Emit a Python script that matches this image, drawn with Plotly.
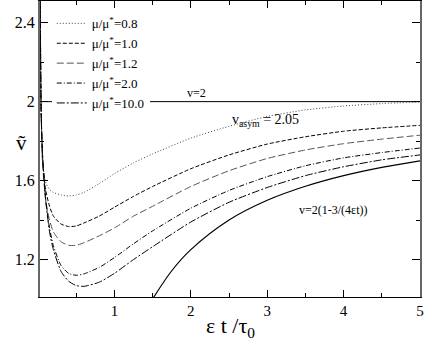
import plotly.graph_objects as go

# ---- data ----
x_eps = [0.025, 0.04, 0.06, 0.1, 0.15, 0.2, 0.3, 0.4, 0.5, 0.6, 0.8, 1.0, 1.25,
         1.5, 2.0, 2.5, 3.0, 3.5, 4.0, 4.5, 5.0]
v_mu08 = [2.7, 2.0, 1.68, 1.59, 1.555, 1.54, 1.527, 1.522, 1.527, 1.54, 1.585, 1.635, 1.69,
          1.735, 1.815, 1.875, 1.925, 1.958, 1.978, 1.99, 1.998]
v_mu10 = [2.7, 1.95, 1.70, 1.55, 1.47, 1.42, 1.38, 1.367, 1.37, 1.385, 1.42, 1.465, 1.52,
          1.57, 1.66, 1.73, 1.785, 1.822, 1.85, 1.867, 1.88]
v_mu12 = [2.7, 1.95, 1.68, 1.50, 1.40, 1.34, 1.29, 1.272, 1.272, 1.285, 1.32, 1.36, 1.42,
          1.47, 1.57, 1.65, 1.712, 1.755, 1.787, 1.81, 1.83]
v_mu20 = [2.7, 1.95, 1.72, 1.50, 1.36, 1.27, 1.17, 1.13, 1.12, 1.127, 1.16, 1.21, 1.28,
          1.345, 1.46, 1.55, 1.62, 1.675, 1.715, 1.742, 1.765]
v_mu100 = [2.7, 1.95, 1.72, 1.50, 1.34, 1.25, 1.14, 1.09, 1.068, 1.064, 1.085, 1.13, 1.20,
           1.265, 1.39, 1.49, 1.565, 1.625, 1.67, 1.705, 1.73]

x_asym = [1.5, 1.75, 2.0, 2.5, 3.0, 3.5, 4.0, 4.5, 5.0]
v_asym = [1.0, 1.143, 1.25, 1.4, 1.5, 1.571, 1.625, 1.667, 1.7]

series_names = ["μ/μ<sup>*</sup>=0.8", "μ/μ<sup>*</sup>=1.0", "μ/μ<sup>*</sup>=1.2",
                "μ/μ<sup>*</sup>=2.0", "μ/μ<sup>*</sup>=10.0"]
series_vals = [v_mu08, v_mu10, v_mu12, v_mu20, v_mu100]
series_dash = ["1px,2px", "4px,2px", "7px,3px", "5px,2px,1px,2px", "8px,2px,2px,2px"]
series_color = ["#444", "#000", "#555", "#000", "#000"]

v_limit = 2.0
x_ticks = [1, 2, 3, 4, 5]
y_ticks = [1.2, 1.6, 2.0, 2.4]
y_ticktext = ["1.2", "1.6", "2", "2.4"]

FONT = "Liberation Serif"

fig = go.Figure()
fig.add_hline(y=v_limit, line=dict(color="#000", width=1), layer="below")

for i, (name, vals, dash, col) in enumerate(zip(series_names, series_vals, series_dash, series_color)):
    fig.add_trace(go.Scatter(x=x_eps, y=vals, mode="lines", name=name, legendgroup=f"g{i}",
                             line=dict(color=col, width=1, dash=dash, shape="spline",
                                       smoothing=0.6)))

fig.add_trace(go.Scatter(x=x_asym, y=v_asym, mode="lines", showlegend=False,
                         line=dict(color="#000", width=1.2, shape="spline")))

fig.add_annotation(x=2.07, y=2.0, text="v=2", showarrow=False, yanchor="bottom",
                   yshift=0, font=dict(family=FONT, size=12, color="#000"))
fig.add_annotation(x=2.98, y=1.905, text="v<sub>asym</sub> = 2.05", showarrow=False,
                   font=dict(family=FONT, size=14, color="#000"))
fig.add_annotation(x=3.86, y=1.451, text="v=2(1-3/(4εt))", showarrow=False,
                   font=dict(family=FONT, size=12, color="#000"))

fig.add_annotation(xref="paper", yref="paper", x=0.5, y=-0.1, text="ε t /τ<sub>0</sub>",
                   showarrow=False, yanchor="middle",
                   font=dict(family=FONT, size=22, color="#000"))
fig.add_annotation(xref="paper", yref="paper", x=-0.068, y=0.52, text="ṽ",
                   showarrow=False, font=dict(family=FONT, size=21, color="#000"))

fig.update_layout(
    width=424, height=345,
    margin=dict(l=40, r=4, t=1, b=48, autoexpand=False),
    paper_bgcolor="white", plot_bgcolor="white",
    font=dict(family=FONT, color="#000"),
    showlegend=True,
    legend=dict(x=0.031, y=0.975, xanchor="left", yanchor="top",
                bgcolor="white", borderwidth=0, font=dict(family=FONT, size=13),
                itemwidth=30, tracegroupgap=0),
)
fig.update_xaxes(range=[0.025, 5.0], tickvals=x_ticks, ticks="inside", ticklen=7,
                 tickcolor="#000", showline=True, linecolor="#000", linewidth=1.3,
                 mirror="allticks", showgrid=False, zeroline=False, automargin=False,
                 tickfont=dict(family=FONT, size=15),
                 minor=dict(dtick=0.5, tick0=0, ticks="inside", ticklen=4, tickcolor="#000"))
fig.update_yaxes(range=[1.01, 2.51], tickvals=y_ticks, ticktext=y_ticktext, ticks="inside",
                 ticklen=8, tickcolor="#000", showline=True, linecolor="#666", linewidth=2,
                 mirror="allticks", showgrid=False, zeroline=False, automargin=False,
                 tickfont=dict(family=FONT, size=16),
                 minor=dict(dtick=0.2, tick0=1.0, ticks="inside", ticklen=4, tickcolor="#000"))

fig.write_html("out.html", config={"displayModeBar": False},
               post_script="document.body.style.margin='0';document.body.style.padding='0';")
